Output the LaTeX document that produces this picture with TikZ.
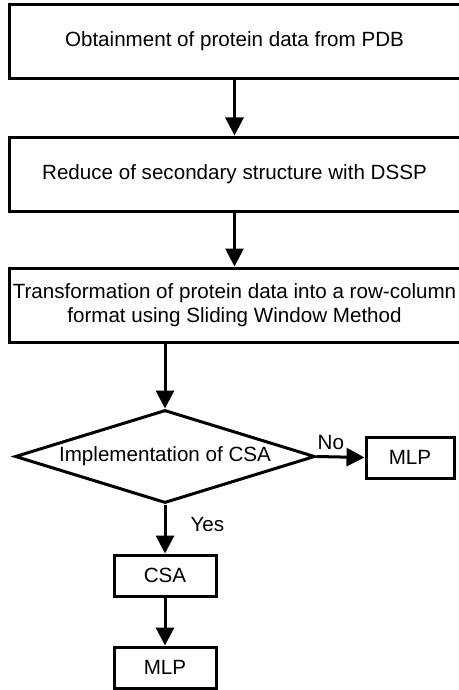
\documentclass[tikz,border=0pt]{standalone}
\usepackage{fontspec}
\setmainfont{Liberation Sans}
\usetikzlibrary{shapes.geometric,arrows.meta}
\begin{document}
\begin{tikzpicture}[x=1pt,y=-1pt,line width=3pt,inner sep=0pt,
    font=\fontsize{20.6}{24}\selectfont,
    stepbox/.style={draw, rectangle, minimum width=451pt, minimum height=74pt, align=center},
    smallbox/.style={draw, rectangle, minimum height=41pt},
    test/.style={draw, diamond, aspect=3.2, minimum width=300pt, minimum height=93pt},
    arr/.style={-{Triangle[length=18pt,width=18pt]}}]
    \useasboundingbox (0,0) rectangle (458,690);
    \node[stepbox] (obtain) at (234.5,41.5) {Obtainment of protein data from PDB};
    \node[stepbox] (reduce) at (234.5,174) {Reduce of secondary structure with DSSP};
    \node[stepbox] (transform) at (234.5,305) {Transformation of protein data into a row-column\\format using Sliding Window Method};
    \node[test] (impl) at (165,456.5) {Implementation of CSA};
    \node[smallbox, minimum width=88pt] (mlpno) at (410,457.5) {MLP};
    \node[smallbox, minimum width=102pt] (csa) at (165,575.5) {CSA};
    \node[smallbox, minimum width=102pt] (mlpyes) at (165,667.5) {MLP};
    \path[arr]%
      (obtain) edge (reduce)
      (reduce) edge (transform)
      (transform.south -| impl.north) edge (impl.north)
      (impl.east) edge node[above=6pt, pos=0.3] {No} (mlpno.west)
      (impl.south) edge node[right=24pt, pos=0.4] {Yes} (csa.north)
      (csa) edge (mlpyes);
\end{tikzpicture}
\end{document}
